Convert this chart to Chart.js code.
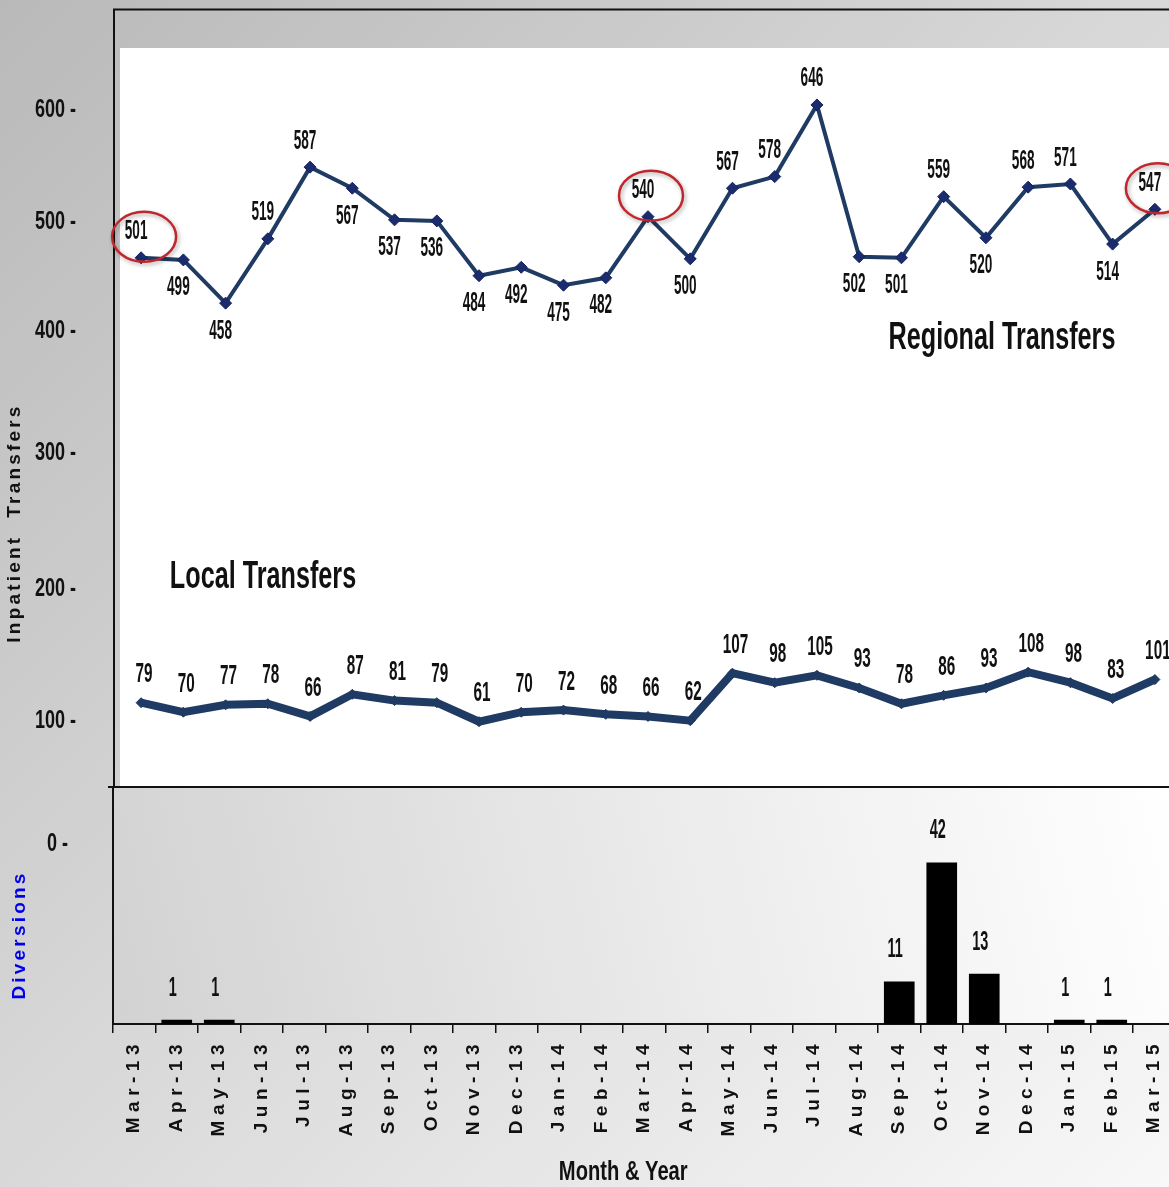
<!DOCTYPE html>
<html>
<head>
<meta charset="utf-8">
<title>Inpatient Transfers and Diversions</title>
<script src="https://cdn.jsdelivr.net/npm/chart.js@4.4.1/dist/chart.umd.min.js"></script>
<style>
  html, body { margin: 0; padding: 0; width: 1169px; height: 1187px; overflow: hidden; }
  body { position: relative; background: linear-gradient(135deg, #b9b9b9 0%, #f8f8f8 100%); }
  #topWrap { position: absolute; left: 0; top: 0; width: 1180px; height: 786px; }
  #bottomWrap { position: absolute; left: 0; top: 786px; width: 1180px; height: 401px; }
</style>
</head>
<body>
<div id="topWrap"><canvas id="transfersCanvas"></canvas></div>
<div id="bottomWrap"><canvas id="diversionsCanvas"></canvas></div>
<script>
  // months on the x axis
  const months = ['Mar-13', 'Apr-13', 'May-13', 'Jun-13', 'Jul-13', 'Aug-13', 'Sep-13', 'Oct-13',
    'Nov-13', 'Dec-13', 'Jan-14', 'Feb-14', 'Mar-14', 'Apr-14', 'May-14', 'Jun-14', 'Jul-14',
    'Aug-14', 'Sep-14', 'Oct-14', 'Nov-14', 'Dec-14', 'Jan-15', 'Feb-15', 'Mar-15'];

  const regionalTransfers = [501, 499, 458, 519, 587, 567, 537, 536, 484, 492, 475, 482, 540,
    500, 567, 578, 646, 502, 501, 559, 520, 568, 571, 514, 547];
  const localTransfers = [79, 70, 77, 78, 66, 87, 81, 79, 61, 70, 72, 68, 66, 62, 107, 98, 105,
    93, 78, 86, 93, 108, 98, 83, 101];
  const diversions = [null, 1, 1, null, null, null, null, null, null, null, null, null, null,
    null, null, null, null, null, 11, 42, 13, null, 1, 1, null];

  // tick labels as printed on the original, and where they sit on each value axis
  const transferTickLabels = ['600', '500', '400', '300', '200', '100'];
  const transferTickAt = [641, 535, 432, 316, 187, 62];
  const diversionTickLabels = ['0'];
  const diversionTickAt = [47];

  // which regional labels sit above the point (1) or below it (0)
  const regionalLabelAbove = [1, 0, 0, 1, 1, 0, 0, 0, 0, 0, 0, 0, 1, 0, 1, 1, 1, 0, 0, 1, 0, 1, 1, 0, 1];
  // months circled in red
  const circledMonths = [0, 12, 24];

  const SANS = '"Liberation Sans", Arial, sans-serif';
  const LINE_COLOR = '#1f3b63';

  // narrow, tall text like the original's condensed font
  function squeezedText(ctx, text, x, y, font, sx, sy, color) {
    ctx.save();
    ctx.translate(x, y);
    ctx.scale(sx, sy);
    ctx.font = font;
    ctx.letterSpacing = '0px';
    ctx.fillStyle = color;
    ctx.textAlign = 'center';
    ctx.textBaseline = 'middle';
    ctx.fillText(text, 0, 0);
    ctx.restore();
  }

  function sideTitle(ctx, text, x, y, color) {
    ctx.save();
    ctx.translate(x, y);
    ctx.rotate(-Math.PI / 2);
    ctx.font = 'bold 19px ' + SANS;
    ctx.letterSpacing = '3.2px';
    ctx.fillStyle = color;
    ctx.textAlign = 'center';
    ctx.textBaseline = 'middle';
    ctx.fillText(text, 0, 0);
    ctx.restore();
  }

  // category axis with spaced out letters for the month labels
  class SpacedCategoryScale extends Chart.CategoryScale {
    draw(chartArea) {
      this.ctx.letterSpacing = '5.5px';
      super.draw(chartArea);
      this.ctx.letterSpacing = '0px';
    }
  }
  SpacedCategoryScale.id = 'spacedCategory';
  SpacedCategoryScale.defaults = Chart.CategoryScale.defaults;

  // value axis whose tick labels are drawn condensed
  class CondensedLinearScale extends Chart.LinearScale {
    drawLabels(chartArea) {
      const ctx = this.ctx;
      this.getLabelItems(chartArea).forEach(item => {
        const o = item.options;
        ctx.save();
        ctx.translate(o.translation[0], o.translation[1]);
        ctx.scale(0.82, 1.2);
        ctx.font = item.font.string;
        ctx.fillStyle = o.color;
        ctx.textAlign = o.textAlign;
        ctx.textBaseline = 'middle';
        ctx.fillText(item.label, 0, 0);
        ctx.restore();
      });
    }
  }
  CondensedLinearScale.id = 'condensedLinear';
  CondensedLinearScale.defaults = Chart.LinearScale.defaults;
  Chart.register(SpacedCategoryScale, CondensedLinearScale);

  const transfersDecor = {
    id: 'transfersDecor',
    beforeDraw(chart) {
      const { ctx, chartArea: a, width, height } = chart;
      ctx.save();
      ctx.fillStyle = '#ffffff';
      ctx.fillRect(a.left, a.top, a.right - a.left, a.bottom - a.top);
      ctx.strokeStyle = '#111';
      ctx.lineWidth = 2;
      ctx.beginPath();
      ctx.moveTo(width, 9.5);
      ctx.lineTo(114, 9.5);
      ctx.lineTo(114, height);
      ctx.stroke();
      ctx.restore();
    },
    afterDatasetsDraw(chart) {
      const ctx = chart.ctx;
      const labelFont = 'bold 17px ' + SANS;
      const regional = chart.getDatasetMeta(0).data;
      const local = chart.getDatasetMeta(1).data;

      regional.forEach((p, i) => {
        const dy = regionalLabelAbove[i] ? -26 : 28;
        squeezedText(ctx, String(regionalTransfers[i]), p.x - 5, p.y + dy, labelFont, 0.8, 1.6, '#111');
      });
      local.forEach((p, i) => {
        squeezedText(ctx, String(localTransfers[i]), p.x + 3, p.y - 28, labelFont, 0.9, 1.6, '#111');
      });

      // red rings
      circledMonths.forEach(i => {
        const p = regional[i];
        ctx.save();
        ctx.strokeStyle = '#c0272d';
        ctx.lineWidth = 2.5;
        ctx.shadowColor = 'rgba(0,0,0,0.35)';
        ctx.shadowBlur = 4;
        ctx.shadowOffsetX = 1.5;
        ctx.shadowOffsetY = 2;
        ctx.beginPath();
        ctx.ellipse(p.x + 3, p.y - 21, 32, 25, 0, 0, Math.PI * 2);
        ctx.stroke();
        ctx.restore();
      });

      const a = chart.chartArea;
      squeezedText(ctx, 'Regional Transfers', a.left + 882, 338, 'bold 28px ' + SANS, 0.9, 1.4, '#111');
      squeezedText(ctx, 'Local Transfers', a.left + 143, 577, 'bold 28px ' + SANS, 0.9, 1.4, '#111');
      sideTitle(ctx, 'Inpatient  Transfers', 15, 523, '#111');
    }
  };

  const diversionsDecor = {
    id: 'diversionsDecor',
    beforeDraw(chart) {
      const { ctx, chartArea: a, width } = chart;
      ctx.save();
      const g = ctx.createLinearGradient(a.left, a.bottom, a.right, a.top);
      g.addColorStop(0, '#d2d2d2');
      g.addColorStop(0.55, '#ececec');
      g.addColorStop(1, '#ffffff');
      ctx.fillStyle = g;
      ctx.fillRect(a.left, a.top, a.right - a.left, a.bottom - a.top);
      ctx.strokeStyle = '#111';
      ctx.lineWidth = 2;
      ctx.beginPath();
      ctx.moveTo(108, 1);
      ctx.lineTo(width, 1);
      ctx.stroke();
      ctx.restore();
    },
    afterDatasetsDraw(chart) {
      const ctx = chart.ctx;
      chart.getDatasetMeta(0).data.forEach((bar, i) => {
        if (diversions[i] == null) return;
        squeezedText(ctx, String(diversions[i]), bar.x - 4, bar.y - 32, 'bold 17px ' + SANS, 0.85, 1.6, '#111');
      });
      const a = chart.chartArea;
      sideTitle(ctx, 'Diversions', 20, 149, '#0000ee');
      squeezedText(ctx, 'Month & Year', (a.left + a.right) / 2 - 21, 386, 'bold 24px ' + SANS, 0.84, 1.16, '#111');
    }
  };

  new Chart(document.getElementById('transfersCanvas'), {
    type: 'line',
    data: {
      labels: months,
      datasets: [
        {
          label: 'Regional Transfers',
          data: regionalTransfers,
          borderColor: LINE_COLOR,
          borderWidth: 4,
          tension: 0,
          pointStyle: 'rectRot',
          pointRadius: 6,
          pointBackgroundColor: '#1b2c6e',
          pointBorderColor: '#142260',
          pointBorderWidth: 1
        },
        {
          label: 'Local Transfers',
          data: localTransfers,
          borderColor: LINE_COLOR,
          borderWidth: 8,
          tension: 0,
          pointStyle: 'rectRot',
          pointRadius: 5,
          pointBackgroundColor: LINE_COLOR,
          pointBorderColor: LINE_COLOR,
          pointBorderWidth: 1
        }
      ]
    },
    options: {
      responsive: true,
      maintainAspectRatio: false,
      animation: false,
      layout: { autoPadding: false, padding: { top: 48, right: 4, bottom: 0, left: 0 } },
      plugins: { legend: { display: false }, tooltip: { enabled: false } },
      scales: {
        x: { display: false, offset: true },
        y: {
          type: 'condensedLinear',
          min: 0,
          max: 700,
          afterFit: s => { s.width = 120; s.paddingTop = 0; s.paddingBottom = 0; },
          afterBuildTicks: s => { s.ticks = transferTickAt.map(v => ({ value: v })); },
          grid: { display: false, drawTicks: false },
          border: { display: false },
          ticks: {
            padding: 44,
            color: '#111',
            font: { family: SANS, size: 22, weight: 'bold' },
            callback: (v, i) => transferTickLabels[i] + ' -'
          }
        }
      }
    },
    plugins: [transfersDecor]
  });

  new Chart(document.getElementById('diversionsCanvas'), {
    type: 'bar',
    data: {
      labels: months,
      datasets: [{
        label: 'Diversions',
        data: diversions,
        backgroundColor: '#000',
        borderColor: '#000',
        barThickness: 30
      }]
    },
    options: {
      responsive: true,
      maintainAspectRatio: false,
      animation: false,
      layout: { autoPadding: false, padding: { top: 0, right: 4.5, bottom: 0, left: 0 } },
      plugins: { legend: { display: false }, tooltip: { enabled: false } },
      scales: {
        x: {
          type: 'spacedCategory',
          afterFit: s => { s.height = 163; s.paddingLeft = 0; s.paddingRight = 0; },
          grid: { display: true, drawOnChartArea: false, offset: true, tickLength: 9, color: '#111', lineWidth: 1.5 },
          border: { display: true, color: '#111', width: 2 },
          ticks: {
            autoSkip: false,
            minRotation: 90,
            maxRotation: 90,
            padding: 6,
            color: '#111',
            font: { family: SANS, size: 19, weight: 'bold' }
          }
        },
        y: {
          type: 'condensedLinear',
          min: 0,
          max: 62,
          afterFit: s => { s.width = 113; s.paddingTop = 0; s.paddingBottom = 0; },
          afterBuildTicks: s => { s.ticks = diversionTickAt.map(v => ({ value: v })); },
          grid: { display: false, drawTicks: false },
          border: { display: true, color: '#111', width: 2 },
          ticks: {
            padding: 45,
            color: '#111',
            font: { family: SANS, size: 22, weight: 'bold' },
            callback: (v, i) => diversionTickLabels[i] + ' -'
          }
        }
      }
    },
    plugins: [diversionsDecor]
  });
</script>
</body>
</html>
